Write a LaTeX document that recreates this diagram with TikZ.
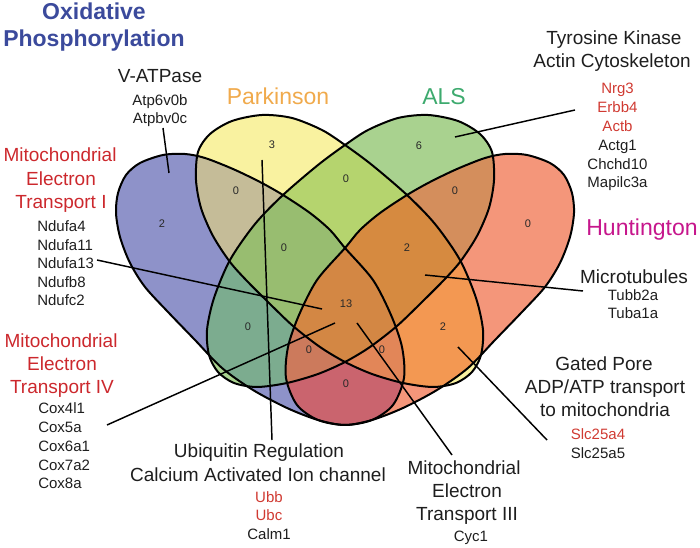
\documentclass[tikz,border=0pt]{standalone}
\usepackage{fontspec}
\setmainfont{Liberation Sans}
\definecolor{cA}{RGB}{142,146,201}
\definecolor{cB}{RGB}{249,242,160}
\definecolor{cC}{RGB}{169,210,143}
\definecolor{cD}{RGB}{244,150,122}
\definecolor{cAB}{RGB}{197,188,152}
\definecolor{cAC}{RGB}{124,172,143}
\definecolor{cAD}{RGB}{202,100,110}
\definecolor{cBC}{RGB}{181,212,110}
\definecolor{cBD}{RGB}{243,152,82}
\definecolor{cCD}{RGB}{212,142,92}
\definecolor{cABC}{RGB}{152,189,112}
\definecolor{cABD}{RGB}{226,134,88}
\definecolor{cACD}{RGB}{204,122,92}
\definecolor{cBCD}{RGB}{214,138,64}
\definecolor{cABCD}{RGB}{211,135,68}
\definecolor{titleblue}{RGB}{59,74,156}
\definecolor{secred}{RGB}{204,40,45}
\definecolor{genered}{RGB}{208,58,50}
\definecolor{parkcol}{RGB}{240,170,76}
\definecolor{alscol}{RGB}{61,170,110}
\definecolor{huntcol}{RGB}{198,22,140}
\definecolor{txt}{RGB}{30,30,30}
\definecolor{numgray}{RGB}{40,40,40}
\begin{document}
\begin{tikzpicture}[x=0.75pt,y=-0.75pt,
  ttl/.style={font=\fontsize{17.25}{20}\selectfont\bfseries, text=titleblue, anchor=base, inner sep=0pt},
  dis/.style={font=\fontsize{17.25}{20}\selectfont, anchor=base, inner sep=0pt},
  sec/.style={font=\fontsize{14.25}{17}\selectfont, anchor=base, inner sep=0pt, text=txt},
  gene/.style={font=\fontsize{11.25}{13}\selectfont, anchor=base, inner sep=0pt, text=txt},
  num/.style={font=\fontsize{8.25}{10}\selectfont, inner sep=0pt, text=numgray},
  lead/.style={line width=1.1pt, draw=black},
  venn/.style={line width=1.5pt, draw=black}]
\useasboundingbox (0,0) rectangle (700,548);

\def\shA{plot[smooth cycle] coordinates {(126,175) (140,163) (163,155) (185,154) (205,158) (233,169) (260,182) (283,195) (310,213) (330,230) (345,248) (373,280) (391,315) (402,347) (404,378) (393,405) (372,420) (345,425) (318,420) (287,408) (253,390) (222,368) (195,340) (168,312) (145,287) (130,263) (120,237) (116,213) (118,193)}}
\def\shD{plot[smooth cycle] coordinates {(564,175) (550,163) (527,155) (505,154) (485,158) (457,169) (430,182) (407,195) (380,213) (360,230) (345,248) (317,280) (299,315) (288,347) (286,378) (297,405) (318,420) (345,425) (372,420) (403,408) (437,390) (468,368) (495,340) (522,312) (545,287) (560,263) (570,237) (574,213) (572,193)}}
\def\shB{plot[smooth cycle] coordinates {(196,180) (198,152) (210,134) (232,121) (262,115) (292,118) (322,130) (345,145) (372,165) (407,195) (435,224) (460,260) (476,298) (483,330) (481,355) (472,372) (456,383) (433,387) (403,383) (372,374) (345,362) (320,347) (293,326) (268,302) (247,281) (230,262) (213,236) (201,208)}}
\def\shC{plot[smooth cycle] coordinates {(494,180) (492,152) (480,134) (458,121) (428,115) (398,118) (368,130) (345,145) (318,165) (283,195) (255,224) (230,260) (214,298) (207,330) (209,355) (218,372) (234,383) (257,387) (287,383) (318,374) (345,362) (370,347) (397,326) (422,302) (443,281) (460,262) (477,236) (489,208)}}

% single sets
\fill[cA] \shA;
\fill[cB] \shB;
\fill[cC] \shC;
\fill[cD] \shD;
% pairs
\begin{scope}\clip \shA; \fill[cAB] \shB; \end{scope}
\begin{scope}\clip \shA; \fill[cAC] \shC; \end{scope}
\begin{scope}\clip \shA; \fill[cAD] \shD; \end{scope}
\begin{scope}\clip \shB; \fill[cBC] \shC; \end{scope}
\begin{scope}\clip \shB; \fill[cBD] \shD; \end{scope}
\begin{scope}\clip \shC; \fill[cCD] \shD; \end{scope}
% triples
\begin{scope}\clip \shA; \clip \shB; \fill[cABC] \shC; \end{scope}
\begin{scope}\clip \shA; \clip \shB; \fill[cABD] \shD; \end{scope}
\begin{scope}\clip \shA; \clip \shC; \fill[cACD] \shD; \end{scope}
\begin{scope}\clip \shB; \clip \shC; \fill[cBCD] \shD; \end{scope}
% quadruple
\begin{scope}\clip \shA; \clip \shB; \clip \shC; \fill[cABCD] \shD; \end{scope}
% outlines
\draw[venn] \shA;
\draw[venn] \shB;
\draw[venn] \shC;
\draw[venn] \shD;

% region counts
\node[num] (nA) at (162,224) {2};
\node[num] (nB) at (272,145) {3};
\node[num] (nC) at (419,146) {6};
\node[num] (nD) at (528,224) {0};
\node[num] (nAB) at (236,191) {0};
\node[num] (nBC) at (346,179) {0};
\node[num] (nCD) at (455,191) {0};
\node[num] (nABC) at (284,248) {0};
\node[num] (nBCD) at (407,248) {2};
\node[num] (nABCD) at (346,304) {13};
\node[num] (nAC) at (248,327) {0};
\node[num] (nBD) at (443,327) {2};
\node[num] (nACD) at (309,350) {0};
\node[num] (nABD) at (382,350) {0};
\node[num] (nAD) at (346,384) {0};

% leader lines
\coordinate (vTop) at (163,128);
\coordinate (vEnd) at (169,173);
\coordinate (aIn) at (455,137);
\coordinate (aOut) at (575,110);
\coordinate (ndOut) at (97,260);
\coordinate (ndIn) at (322,309);
\coordinate (coxOut) at (107,425);
\coordinate (coxIn) at (335,323);
\coordinate (ubIn) at (262,160);
\coordinate (ubOut) at (272,440);
\coordinate (mtIn) at (425,275);
\coordinate (mtOut) at (583,291);
\coordinate (gpIn) at (458,347);
\coordinate (gpOut) at (547,440);
\coordinate (m3In) at (357,323);
\coordinate (m3Out) at (452,455);
\draw[lead] (vTop) -- (vEnd);
\draw[lead] (aIn) -- (aOut);
\draw[lead] (ndOut) -- (ndIn);
\draw[lead] (coxOut) -- (coxIn);
\draw[lead] (ubIn) -- (ubOut);
\draw[lead] (mtIn) -- (mtOut);
\draw[lead] (gpIn) -- (gpOut);
\draw[lead] (m3In) -- (m3Out);

% title
\node[ttl] (t1) at (94,20) {Oxidative};
\node[ttl] (t2) at (94,47) {Phosphorylation};
% disease labels
\node[dis, text=parkcol] (park) at (278,105) {Parkinson};
\node[dis, text=alscol] (als) at (444,105) {ALS};
\node[dis, text=huntcol] (hunt) at (642,236) {Huntington};

% V-ATPase
\node[sec] (vat) at (160,83) {V-ATPase};
\node[gene] (vg1) at (160,106) {Atp6v0b};
\node[gene] (vg2) at (160,124) {Atpbv0c};

% Tyrosine kinase
\node[sec] (ty1) at (614,45) {Tyrosine Kinase};
\node[sec] (ty2) at (612,68) {Actin Cytoskeleton};
\foreach \t/\c [count=\i] in {Nrg3/genered, Erbb4/genered, Actb/genered, Actg1/txt, Chchd10/txt, Mapilc3a/txt}
  \node[gene, text=\c] (tg\i) at (617.5,{93.5+18.9*(\i-1)}) {\t};

% Mito ET I
\node[sec, text=secred] (m1a) at (60,162) {Mitochondrial};
\node[sec, text=secred] (m1b) at (61,186) {Electron};
\node[sec, text=secred] (m1c) at (61,209) {Transport I};
\foreach \t [count=\i] in {Ndufa4, Ndufa11, Ndufa13, Ndufb8, Ndufc2}
  \node[gene, anchor=base west] (nd\i) at (37,{232+18.5*(\i-1)}) {\t};

% Mito ET IV
\node[sec, text=secred] (m4a) at (61,348) {Mitochondrial};
\node[sec, text=secred] (m4b) at (62,371) {Electron};
\node[sec, text=secred] (m4c) at (62,394) {Transport IV};
\foreach \t [count=\i] in {Cox4l1, Cox5a, Cox6a1, Cox7a2, Cox8a}
  \node[gene, anchor=base west] (cx\i) at (38,{414+18.75*(\i-1)}) {\t};

% Ubiquitin
\node[sec] (ub1) at (259,458) {Ubiquitin Regulation};
\node[sec] (ub2) at (258,482) {Calcium Activated Ion channel};
\node[gene, text=genered] (ug1) at (269,503) {Ubb};
\node[gene, text=genered] (ug2) at (269,521) {Ubc};
\node[gene] (ug3) at (269,540) {Calm1};

% Mito ET III
\node[sec] (m3a) at (464,475) {Mitochondrial};
\node[sec] (m3b) at (467,498) {Electron};
\node[sec] (m3c) at (467,521) {Transport III};
\node[gene] (m3g) at (471,542) {Cyc1};

% Microtubules
\node[sec] (mt) at (634,284) {Microtubules};
\node[gene] (mtg1) at (633,301) {Tubb2a};
\node[gene] (mtg2) at (633,319) {Tuba1a};

% Gated pore
\node[sec] (gp1) at (604,371) {Gated Pore};
\node[sec] (gp2) at (605,394) {ADP/ATP transport};
\node[sec] (gp3) at (605,417) {to mitochondria};
\node[gene, text=genered] (gpg1) at (598,440) {Slc25a4};
\node[gene] (gpg2) at (598,459) {Slc25a5};
\end{tikzpicture}
\end{document}
